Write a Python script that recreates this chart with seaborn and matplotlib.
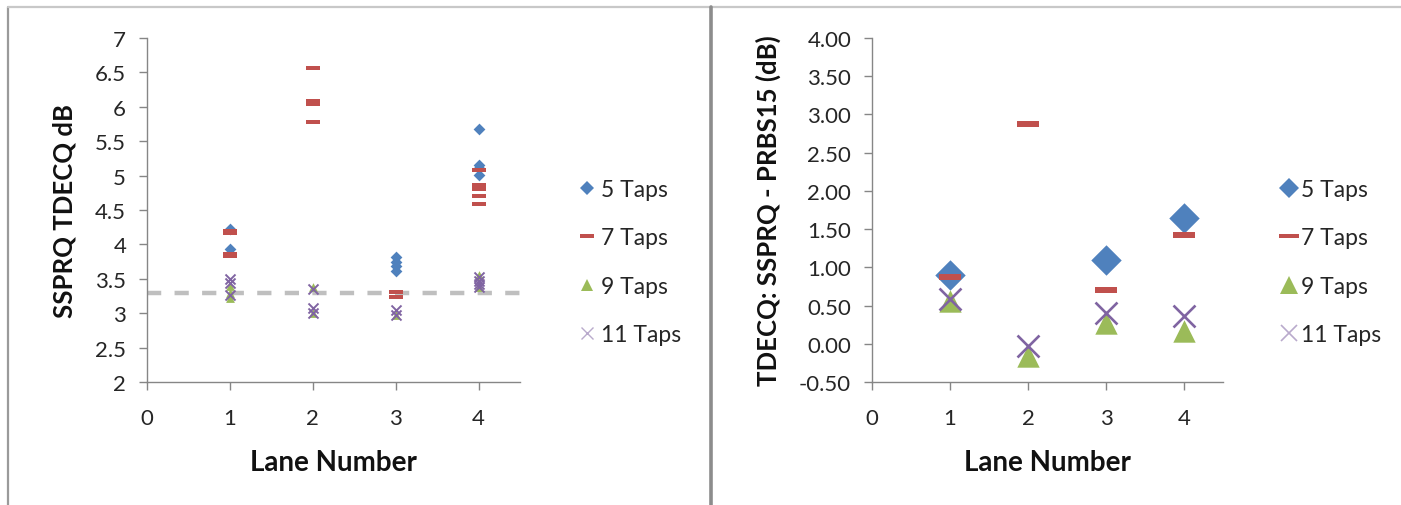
import numpy as np
import pandas as pd
import matplotlib
matplotlib.use("Agg")
import matplotlib.pyplot as plt
import seaborn as sns
from matplotlib.lines import Line2D
from matplotlib.path import Path

# ---------------- data ----------------
series = ["5 Taps", "7 Taps", "9 Taps", "11 Taps"]

# Left panel: SSPRQ TDECQ (dB) per lane, several measurements
left_lane_5 = [1, 1, 3, 3, 3, 3, 4, 4, 4, 4]
left_val_5 = [4.23, 3.93, 3.82, 3.74, 3.68, 3.62, 5.68, 5.15, 5.11, 5.01]
left_lane_7 = [1, 1, 1, 1, 2, 2, 2, 2, 3, 3, 4, 4, 4, 4, 4]
left_val_7 = [4.19, 4.16, 3.86, 3.83, 6.56, 6.09, 6.04, 5.78, 3.31, 3.24, 5.08, 4.86, 4.80, 4.70, 4.58]
left_lane_9 = [1, 1, 1, 2, 2, 3, 4, 4]
left_val_9 = [3.40, 3.30, 3.22, 3.38, 3.00, 2.97, 3.55, 3.38]
left_lane_11 = [1, 1, 1, 2, 2, 2, 3, 3, 4, 4, 4, 4]
left_val_11 = [3.50, 3.44, 3.27, 3.35, 3.08, 3.01, 3.04, 2.98, 3.52, 3.47, 3.42, 3.38]
reference_level = 3.3

# Right panel: TDECQ difference SSPRQ - PRBS15 (dB)
right_lane_5 = [1, 3, 4]
right_val_5 = [0.90, 1.10, 1.65]
right_lane_7 = [1, 2, 3, 4]
right_val_7 = [0.88, 2.87, 0.71, 1.42]
right_lane_9 = [1, 2, 3, 4]
right_val_9 = [0.56, -0.16, 0.27, 0.17]
right_lane_11 = [1, 2, 3, 4]
right_val_11 = [0.59, -0.03, 0.40, 0.36]

x_ticks = [0, 1, 2, 3, 4]
left_y_ticks = [2, 2.5, 3, 3.5, 4, 4.5, 5, 5.5, 6, 6.5, 7]
right_y_ticks = [-0.5, 0, 0.5, 1, 1.5, 2, 2.5, 3, 3.5, 4]

# ---------------- style ----------------
sns.set_theme(style="white")
plt.rcParams["font.family"] = ["Lato", "DejaVu Sans"]
plt.rcParams["axes.unicode_minus"] = False

colors = {"5 Taps": "#4F81BD", "7 Taps": "#C0504D", "9 Taps": "#9BBB59", "11 Taps": "#8064A2"}
dash_path = Path([(-1, -0.24), (1, -0.24), (1, 0.24), (-1, 0.24), (-1, -0.24)],
                 [Path.MOVETO, Path.LINETO, Path.LINETO, Path.LINETO, Path.CLOSEPOLY])
markers = {"5 Taps": "D", "7 Taps": dash_path, "9 Taps": "^", "11 Taps": "x"}

fig = plt.figure(figsize=(14.01, 5.06), dpi=100)
W, H = 1401, 506

def axes_px(x0, x1, ytop, ybot):
    return fig.add_axes([x0 / W, 1 - ybot / H, (x1 - x0) / W, (ybot - ytop) / H])

ax1 = axes_px(147, 520, 39, 383)
ax2 = axes_px(872, 1223, 39, 383)

def make_df(lanes, vals, name):
    return pd.DataFrame({"Lane": lanes, "Value": vals, "Series": name})

left_dfs = [make_df(left_lane_5, left_val_5, "5 Taps"), make_df(left_lane_7, left_val_7, "7 Taps"),
            make_df(left_lane_9, left_val_9, "9 Taps"), make_df(left_lane_11, left_val_11, "11 Taps")]
right_dfs = [make_df(right_lane_5, right_val_5, "5 Taps"), make_df(right_lane_7, right_val_7, "7 Taps"),
             make_df(right_lane_9, right_val_9, "9 Taps"), make_df(right_lane_11, right_val_11, "11 Taps")]

left_sizes = {"5 Taps": 36, "7 Taps": 88, "9 Taps": 40, "11 Taps": 52}
right_sizes = {"5 Taps": 240, "7 Taps": 250, "9 Taps": 260, "11 Taps": 250}

ax1.axhline(reference_level, color="#BFBFBF", lw=3.2, ls=(0, (3.2, 3.0)), zorder=1)

for ax, dfs, sizes, xlw in [(ax1, left_dfs, left_sizes, 1.4), (ax2, right_dfs, right_sizes, 1.9)]:
    for df in dfs:
        name = df["Series"].iloc[0]
        if name == "11 Taps":
            sns.scatterplot(data=df, x="Lane", y="Value", ax=ax, color=colors[name],
                            marker="x", s=sizes[name], linewidth=xlw, zorder=3, legend=False)
        else:
            sns.scatterplot(data=df, x="Lane", y="Value", ax=ax, color=colors[name],
                            marker=markers[name], s=sizes[name], linewidth=0, zorder=3, legend=False)

# axes formatting
for ax in (ax1, ax2):
    ax.set_xlim(0, 4.5)
    ax.set_xticks(x_ticks)
    ax.set_xticklabels([str(t) for t in x_ticks])
    for sp in ("top", "right"):
        ax.spines[sp].set_visible(False)
    for sp in ("left", "bottom"):
        ax.spines[sp].set_color("#868686")
        ax.spines[sp].set_linewidth(1.0)
    ax.tick_params(axis="both", direction="out", length=6, width=1.0, color="#868686",
                   labelsize=16, labelcolor="#262626", left=True, bottom=True)
    ax.tick_params(axis="y", pad=9)
    ax.tick_params(axis="x", pad=13)
    ax.set_xlabel("Lane Number", fontsize=20, fontweight="bold", color="#111111")
    ax.xaxis.set_label_coords(0.5, -0.195)
    ax.grid(False)

ax1.set_ylim(2, 7)
ax1.set_yticks(left_y_ticks)
ax1.set_yticklabels([f"{t:g}" for t in left_y_ticks])
ax1.set_ylabel("SSPRQ TDECQ dB", fontsize=18.5, fontweight="bold", color="#111111")
ax1.yaxis.set_label_coords(-0.19, 0.5)

ax2.set_ylim(-0.5, 4.0)
ax2.set_yticks(right_y_ticks)
ax2.set_yticklabels([f"{t:.2f}" for t in right_y_ticks])
ax2.set_ylabel("TDECQ: SSPRQ - PRBS15 (dB)", fontsize=18.5, fontweight="bold", color="#111111")
ax2.yaxis.set_label_coords(-0.258, 0.5)

# legends
def handles(ms_map, xlw):
    hs = []
    for name in series:
        if name == "11 Taps":
            hs.append(Line2D([], [], ls="none", marker="x", color=colors[name], alpha=0.55,
                             markersize=ms_map[name], markeredgewidth=xlw))
        else:
            hs.append(Line2D([], [], ls="none", marker=markers[name], color=colors[name],
                             markersize=ms_map[name], markeredgewidth=0))
    return hs

left_ms = {"5 Taps": 7.5, "7 Taps": 9.5, "9 Taps": 9, "11 Taps": 9}
right_ms = {"5 Taps": 10.5, "7 Taps": 14, "9 Taps": 13, "11 Taps": 12}

leg1 = fig.legend(handles(left_ms, 1.0), series, loc="center left",
                  bbox_to_anchor=(569 / W, 1 - 263 / H), frameon=False, fontsize=16.5,
                  labelspacing=1.19, handlelength=0.8, handletextpad=0.21, borderaxespad=0)
leg2 = fig.legend(handles(right_ms, 1.2), series, loc="center left",
                  bbox_to_anchor=(1271 / W, 1 - 263 / H), frameon=False, fontsize=16.5,
                  labelspacing=1.19, handlelength=0.8, handletextpad=0.1, borderaxespad=0)
for leg in (leg1, leg2):
    for t in leg.get_texts():
        t.set_color("#262626")

# panel borders
fig.add_artist(Line2D([8 / W, 8 / W], [0, 1 - 8 / H], color="#9A9A9A", lw=1.6))
fig.add_artist(Line2D([8 / W, 1], [1 - 8 / H, 1 - 8 / H], color="#C8C8C8", lw=1.6))
fig.add_artist(Line2D([711 / W, 711 / W], [0, 1 - 8 / H], color="#8C8C8C", lw=2.6))

fig.savefig("out.png", dpi=100)
